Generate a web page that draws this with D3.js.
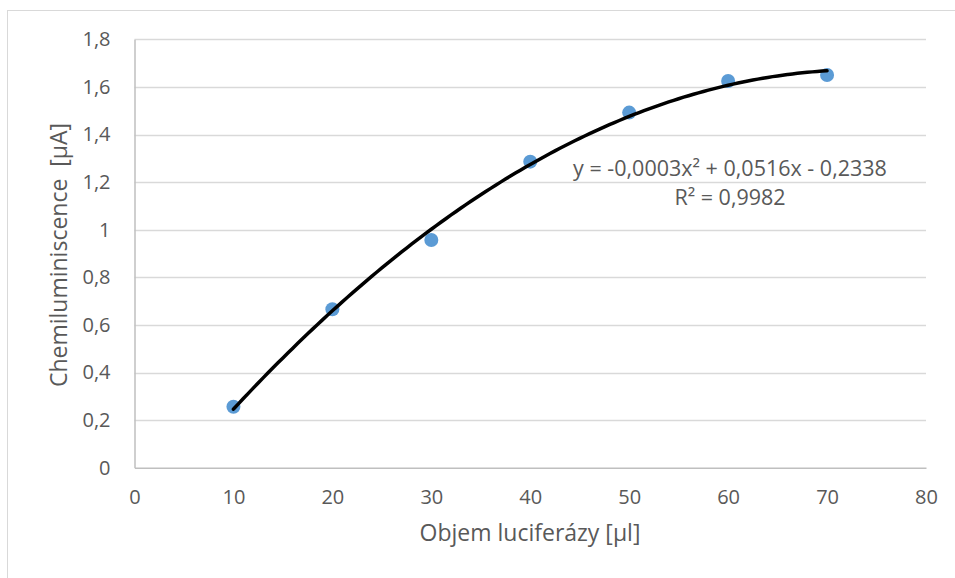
<!DOCTYPE html>
<html>
<head>
<meta charset="utf-8">
<script src="https://cdn.jsdelivr.net/npm/d3@7"></script>
<style>
  html, body { margin: 0; padding: 0; background: #fff; }
  svg { display: block; }
  text { font-family: "Open Sans", "Liberation Sans", sans-serif; fill: #595959; white-space: pre; }
</style>
</head>
<body>
<svg id="chart" width="955" height="578"></svg>
<script>
// Measured luciferase volume vs. chemiluminescence current
const volumes = [10, 20, 30, 40, 50, 60, 70];
const currents = [0.256, 0.666, 0.957, 1.286, 1.492, 1.625, 1.650];

const xTicks = [0, 10, 20, 30, 40, 50, 60, 70, 80];
const yTicks = [0, 0.2, 0.4, 0.6, 0.8, 1.0, 1.2, 1.4, 1.6, 1.8];

const xTitle = "Objem luciferázy [µl]";
const yTitle = "Chemiluminiscence\u00a0 [µA]";
const equationText = "y = -0,0003x² + 0,0516x - 0,2338";
const r2Text = "R² = 0,9982";

const svg = d3.select("#chart");
const W = 955, H = 578;

// chart frame
svg.append("rect")
  .attr("x", 7.5).attr("y", 10.5)
  .attr("width", W + 10).attr("height", H + 10)
  .attr("fill", "#fff").attr("stroke", "#d9d9d9").attr("stroke-width", 1);

const plot = { left: 134.5, right: 926, top: 39.3, bottom: 467.7 };

const x = d3.scaleLinear().domain([0, 80]).range([plot.left, plot.right]);
const y = d3.scaleLinear().domain([0, 1.8]).range([plot.bottom, plot.top]);

const fmt = v => String(+v.toFixed(1)).replace(".", ",");

// horizontal gridlines
svg.append("g")
  .selectAll("line")
  .data(yTicks.filter(t => t > 0))
  .join("line")
  .attr("x1", plot.left).attr("x2", plot.right)
  .attr("y1", d => Math.round(y(d)) + 0.5).attr("y2", d => Math.round(y(d)) + 0.5)
  .attr("stroke", "#d9d9d9").attr("stroke-width", 1.5);

// axes
const xAxis = svg.append("g")
  .attr("transform", `translate(0,${plot.bottom})`)
  .call(d3.axisBottom(x).tickValues(xTicks).tickSize(0).tickPadding(22).tickFormat(d => String(d)));
xAxis.select(".domain").attr("stroke", "#bfbfbf").attr("stroke-width", 1.5);
xAxis.selectAll("text").attr("font-size", 20).attr("fill", "#595959")
  .attr("font-family", "'Open Sans', sans-serif");

const yAxis = svg.append("g")
  .attr("transform", `translate(${plot.left},0)`)
  .call(d3.axisLeft(y).tickValues(yTicks).tickSize(0).tickPadding(24).tickFormat(fmt));
yAxis.select(".domain").attr("stroke", "#bfbfbf").attr("stroke-width", 1.5);
yAxis.selectAll("text").attr("font-size", 20).attr("fill", "#595959")
  .attr("font-family", "'Open Sans', sans-serif");

// least-squares quadratic fit through the measured points
function quadFit(xs, ys) {
  let s = [0, 0, 0, 0, 0], t = [0, 0, 0];
  xs.forEach((xi, i) => {
    const p = [1, xi, xi * xi, xi ** 3, xi ** 4];
    for (let k = 0; k < 5; k++) s[k] += p[k];
    for (let k = 0; k < 3; k++) t[k] += ys[i] * p[k];
  });
  const A = [[s[0], s[1], s[2], t[0]], [s[1], s[2], s[3], t[1]], [s[2], s[3], s[4], t[2]]];
  for (let i = 0; i < 3; i++) {
    for (let j = i + 1; j < 3; j++) {
      const f = A[j][i] / A[i][i];
      for (let k = i; k < 4; k++) A[j][k] -= f * A[i][k];
    }
  }
  const c = [0, 0, 0];
  for (let i = 2; i >= 0; i--) {
    let v = A[i][3];
    for (let k = i + 1; k < 3; k++) v -= A[i][k] * c[k];
    c[i] = v / A[i][i];
  }
  return c; // c0 + c1 x + c2 x^2
}
const coef = quadFit(volumes, currents);
const trendX = d3.range(volumes[0], volumes[volumes.length - 1] + 0.001, 0.5);

// data points
svg.append("g")
  .selectAll("circle")
  .data(volumes.map((v, i) => [v, currents[i]]))
  .join("circle")
  .attr("cx", d => x(d[0])).attr("cy", d => y(d[1]))
  .attr("r", 7).attr("fill", "#5b9bd5");

// trendline
svg.append("path")
  .datum(trendX)
  .attr("d", d3.line().x(d => x(d)).y(d => y(coef[0] + coef[1] * d + coef[2] * d * d)).curve(d3.curveBasis))
  .attr("fill", "none").attr("stroke", "#000").attr("stroke-width", 3.5).attr("stroke-linecap", "round");

// trendline equation
svg.append("text").attr("x", 730).attr("y", 176).attr("text-anchor", "middle")
  .attr("font-size", 21.5).text(equationText);
svg.append("text").attr("x", 730).attr("y", 205).attr("text-anchor", "middle")
  .attr("font-size", 21.5).text(r2Text);

// axis titles
svg.append("text").attr("x", 530).attr("y", 541).attr("text-anchor", "middle")
  .attr("font-size", 23).text(xTitle);
svg.append("text")
  .attr("transform", "translate(67,255) rotate(-90)")
  .attr("text-anchor", "middle").attr("font-size", 23).text(yTitle);
</script>
</body>
</html>
